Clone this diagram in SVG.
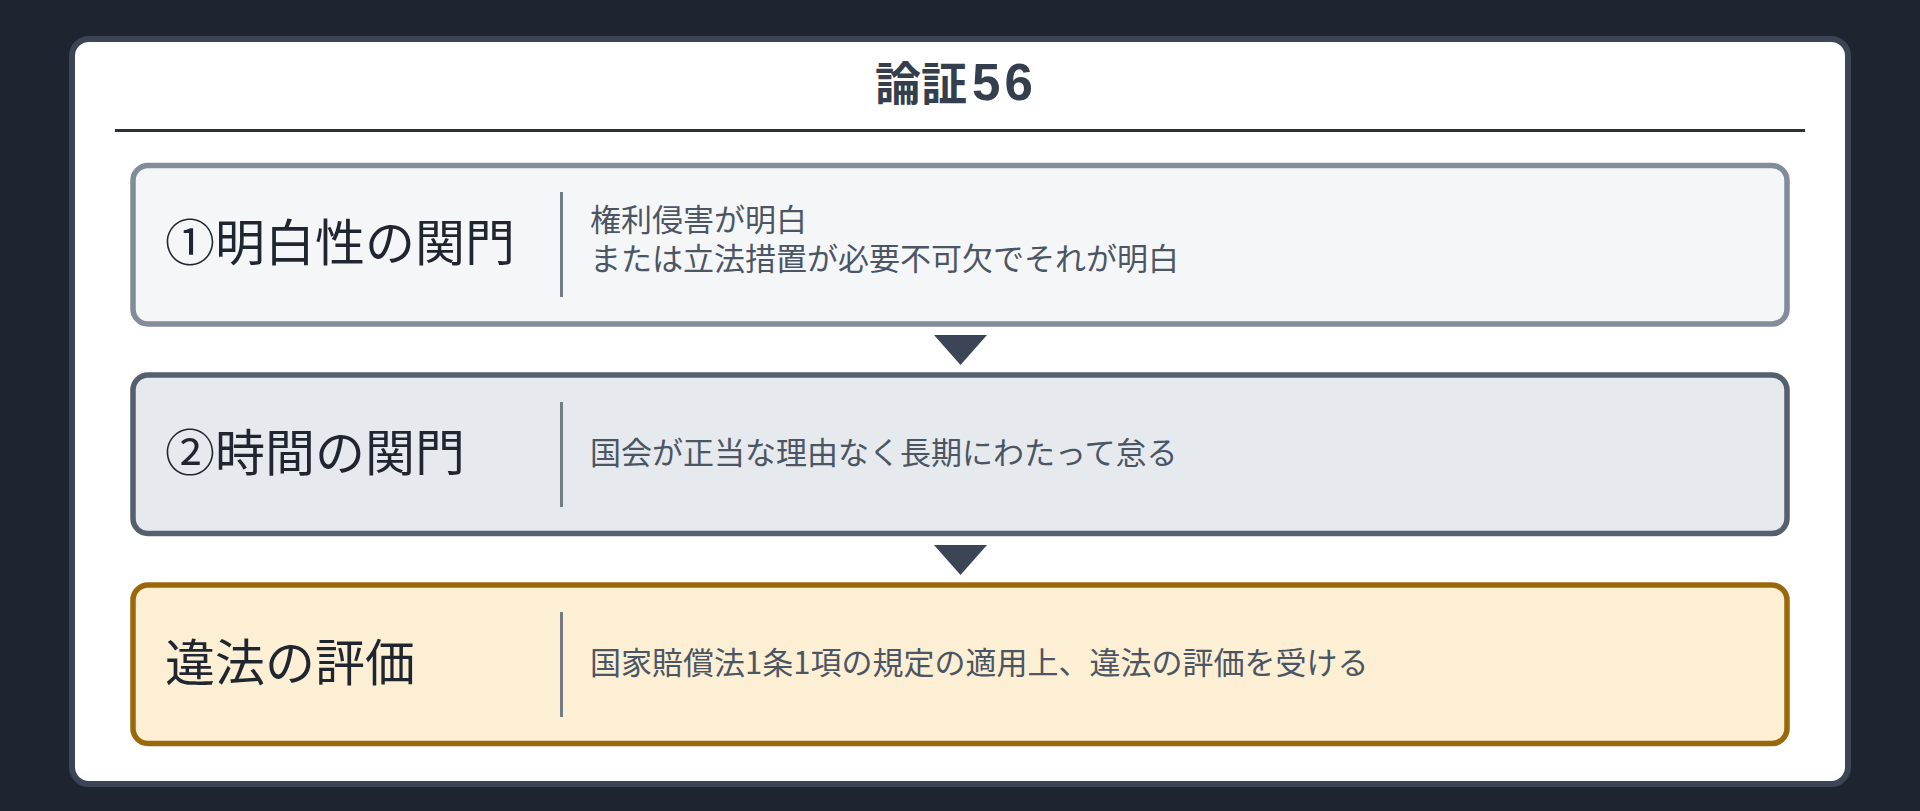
<svg xmlns="http://www.w3.org/2000/svg" width="1920" height="811" viewBox="0 0 1920 811">
  <style>
    .txt { font-family: "Noto Sans CJK JP", "Noto Sans", sans-serif; dominant-baseline: central; }
    .title { font-family: "Noto Sans CJK JP", "Noto Sans", sans-serif; font-size: 46px; font-weight: 700; fill: #343e4d; }
    .digits { font-family: "Liberation Sans", Arial, sans-serif; font-size: 51px; font-weight: 700; }
    .label { font-size: 50px; fill: #1f2630; }
    .desc { font-size: 31px; fill: #4b5563; }
    .divider { stroke: #737b87; stroke-width: 3; }
    .arrow { fill: #3b4556; }
  </style>
  <rect x="0" y="0" width="1920" height="811" fill="#1e2530"/>
  <g id="card">
    <rect x="72" y="39" width="1776" height="745" rx="17" fill="#ffffff" stroke="#3b4556" stroke-width="6"/>
  </g>
  <g id="title">
    <text class="title" x="875" y="100">論証<tspan class="digits" dx="5">5</tspan><tspan class="digits" dx="4">6</tspan></text>
    <line x1="115" y1="130.5" x2="1805" y2="130.5" stroke="#2b323c" stroke-width="3"/>
  </g>
  <g id="node-1">
    <rect x="133" y="165.5" width="1654" height="158.5" rx="15" fill="#f5f6f8" stroke="#848c99" stroke-width="5.5"/>
    <text class="txt label" x="165" y="239">①明白性の関門</text>
    <line class="divider" x1="561.5" y1="192" x2="561.5" y2="297"/>
    <text class="txt desc"><tspan x="590" y="217">権利侵害が明白</tspan><tspan x="590" y="256">または立法措置が必要不可欠でそれが明白</tspan></text>
  </g>
  <g id="node-2">
    <rect x="133" y="375" width="1654" height="158.5" rx="15" fill="#e6e9ee" stroke="#555f6d" stroke-width="5.5"/>
    <text class="txt label" x="165" y="449">②時間の関門</text>
    <line class="divider" x1="561.5" y1="402" x2="561.5" y2="507"/>
    <text class="txt desc" x="590" y="450.5">国会が正当な理由なく長期にわたって怠る</text>
  </g>
  <g id="node-3">
    <rect x="133" y="585" width="1654" height="158.5" rx="15" fill="#fcefd4" stroke="#9a680a" stroke-width="5.5"/>
    <text class="txt label" x="165" y="659">違法の評価</text>
    <line class="divider" x1="561.5" y1="612" x2="561.5" y2="717"/>
    <text class="txt desc" x="590" y="660.5">国家賠償法1条1項の規定の適用上、違法の評価を受ける</text>
  </g>
  <g id="connectors">
    <polygon class="arrow" points="934,335 987,335 960.5,365"/>
    <polygon class="arrow" points="934,545 987,545 960.5,575"/>
  </g>
</svg>
